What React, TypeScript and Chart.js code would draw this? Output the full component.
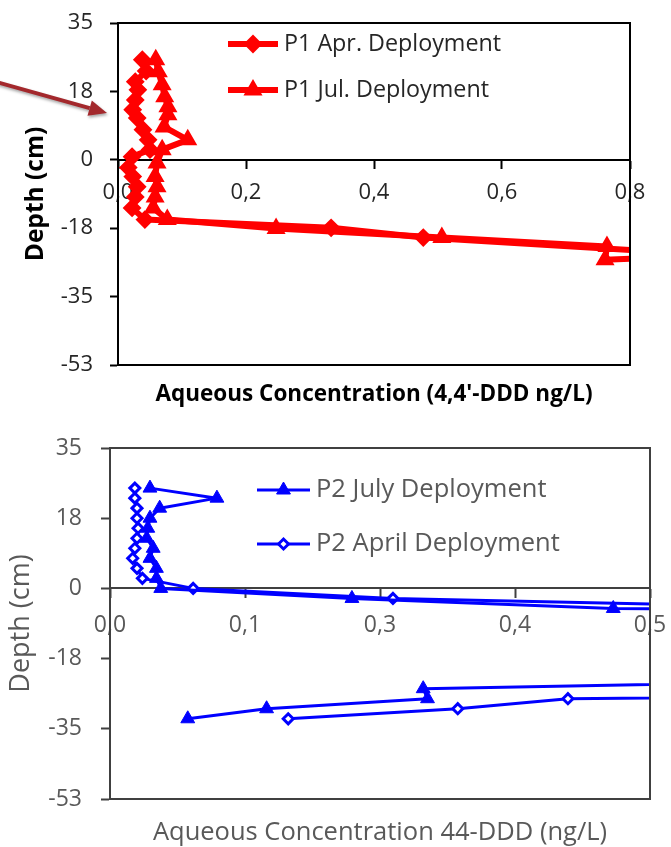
import React, { useEffect, useRef } from 'react';
import { Chart, registerables } from 'chart.js';
import { drawPoint } from 'chart.js/helpers';

Chart.register(...registerables);

// ---- axis ticks ----
const DEPTH_TICKS = [35, 17.5, 0, -17.5, -35, -52.5];
const DEPTH_TICK_LABELS = ['35', '18', '0', '-18', '-35', '-53'];
const P1_CONC_TICKS = [0, 0.2, 0.4, 0.6, 0.8];
const P1_CONC_TICK_LABELS = ['0,0', '0,2', '0,4', '0,6', '0,8'];
const P2_CONC_TICKS = [0, 0.125, 0.25, 0.375, 0.5];
const P2_CONC_TICK_LABELS = ['0,0', '0,1', '0,3', '0,4', '0,5'];

// ---- P1 (4,4'-DDD ng/L vs depth cm) ----
const P1_APR_CONC = [0.038, 0.044, 0.027, 0.031, 0.027, 0.023, 0.030, 0.039, 0.047, 0.050, 0.022, 0.016, 0.023, 0.030, 0.027, 0.022, 0.042, 0.333, 0.477, 1.1];
const P1_APR_DEPTH = [25.6, 22.7, 20, 17.9, 15.3, 12.8, 10.7, 7.7, 5.1, 2.6, 0.8, -2, -4.3, -6.9, -9.5, -12.3, -15.3, -17.4, -19.9, -26];
const P1_JUL_CONC = [0.059, 0.063, 0.069, 0.073, 0.078, 0.078, 0.072, 0.109, 0.069, 0.061, 0.058, 0.061, 0.058, 0.055, 0.077, 0.247, 0.506, 0.764, 0.761, 1.0];
const P1_JUL_DEPTH = [25.6, 22.5, 19.2, 16.1, 13.6, 11.5, 8.4, 5.1, 2.6, -0.8, -4.3, -6.9, -9.5, -12.3, -15.3, -17.6, -19.9, -22.2, -25.6, -24];

// ---- P2 (44-DDD ng/L vs depth cm) ----
const P2_JUL_CONC = [0.037, 0.099, 0.046, 0.037, 0.035, 0.034, 0.040, 0.037, 0.043, 0.043, 0.047, 0.224, 0.466, 1.9, 0.8, 0.290, 0.294, 0.145, 0.072];
const P2_JUL_DEPTH = [25, 22.5, 20, 17.5, 15, 12.5, 10, 7.5, 5, 2.5, 0, -2.5, -5, -7.5, -22.5, -25, -27.5, -30, -32.5];
const P2_APR_CONC = [0.023, 0.023, 0.025, 0.025, 0.026, 0.025, 0.023, 0.021, 0.025, 0.030, 0.077, 0.262, 0.7, 1.5, 0.424, 0.322, 0.165];
const P2_APR_DEPTH = [25, 22.5, 20, 17.5, 15, 12.5, 10, 7.5, 5, 2.5, 0, -2.5, -5, -25, -27.5, -30, -32.5];

const P1_NAMES = ['P1 Apr. Deployment', 'P1 Jul. Deployment'];
const P2_NAMES = ['P2 July Deployment', 'P2 April Deployment'];
const P1_X_TITLE = "Aqueous Concentration (4,4'-DDD ng/L)";
const P2_X_TITLE = 'Aqueous Concentration 44-DDD (ng/L)';
const Y_TITLE = 'Depth (cm)';

const FONT = '"Open Sans", Lato, sans-serif';

function pts(xs: number[], ys: number[]) {
  return xs.map((x, i) => ({ x, y: ys[i] }));
}

function framePlugin(color: string, width: number) {
  return {
    id: 'frame',
    afterDatasetsDraw(chart: any) {
      const { ctx, chartArea } = chart;
      ctx.save();
      ctx.strokeStyle = color;
      ctx.lineWidth = width;
      ctx.strokeRect(chartArea.left, chartArea.top, chartArea.right - chartArea.left, chartArea.bottom - chartArea.top);
      ctx.restore();
    },
  };
}

function legendPlugin(cfg: any) {
  return {
    id: 'insideLegend',
    afterDraw(chart: any) {
      const ctx = chart.ctx;
      cfg.rows.forEach((row: any) => {
        const ds = chart.data.datasets[row.index];
        ctx.save();
        ctx.strokeStyle = ds.borderColor;
        ctx.lineWidth = ds.borderWidth;
        ctx.lineCap = 'butt';
        ctx.beginPath();
        ctx.moveTo(cfg.x0, row.y);
        ctx.lineTo(cfg.x1, row.y);
        ctx.stroke();
        ctx.fillStyle = ds.pointBackgroundColor;
        ctx.strokeStyle = ds.pointBorderColor;
        ctx.lineWidth = ds.pointBorderWidth;
        drawPoint(ctx, { pointStyle: ds.pointStyle, radius: ds.pointRadius, borderWidth: ds.pointBorderWidth, rotation: 0 } as any, (cfg.x0 + cfg.x1) / 2, row.y);
        ctx.fillStyle = cfg.color;
        ctx.font = cfg.font;
        ctx.textBaseline = 'middle';
        ctx.textAlign = 'left';
        ctx.fillText(ds.label, cfg.textX, row.y);
        ctx.restore();
      });
    },
  };
}

const arrowPlugin = {
  id: 'arrow',
  afterDraw(chart: any) {
    const ctx = chart.ctx;
    const x0 = 0, y0 = 83, x1 = 107, y1 = 113;
    const ang = Math.atan2(y1 - y0, x1 - x0);
    const headLen = 18, headHalf = 8;
    const bx = x1 - headLen * Math.cos(ang), by = y1 - headLen * Math.sin(ang);
    ctx.save();
    ctx.shadowColor = 'rgba(0,0,0,0.35)';
    ctx.shadowBlur = 3;
    ctx.shadowOffsetX = 1;
    ctx.shadowOffsetY = 2;
    ctx.strokeStyle = '#A3282C';
    ctx.fillStyle = '#A3282C';
    ctx.lineWidth = 4;
    ctx.beginPath();
    ctx.moveTo(x0 - 5, y0 - 5 * Math.tan(ang));
    ctx.lineTo(bx, by);
    ctx.stroke();
    ctx.beginPath();
    ctx.moveTo(x1, y1);
    ctx.lineTo(bx + headHalf * Math.sin(ang), by - headHalf * Math.cos(ang));
    ctx.lineTo(bx - headHalf * Math.sin(ang), by + headHalf * Math.cos(ang));
    ctx.closePath();
    ctx.fill();
    ctx.restore();
  },
};

function makeAxes(opts: any) {
  const { xMax, xTicks, xLabels, color, axisColor, axisWidth, tickFont, yWidth, yTitleFont, yTitlePad, xPad, yPad, tickLen } = opts;
  return {
    x: {
      type: 'linear',
      min: 0,
      max: xMax,
      position: { y: 0 },
      afterBuildTicks: (s: any) => { s.ticks = xTicks.map((v: number) => ({ value: v })); },
      afterFit: (s: any) => { s.height = 0; s.paddingLeft = 0; s.paddingRight = 0; },
      ticks: {
        callback: (_v: any, i: number) => xLabels[i],
        color,
        font: tickFont,
        padding: xPad,
        maxRotation: 0,
        autoSkip: false,
      },
      grid: { drawOnChartArea: false, drawTicks: true, tickLength: tickLen, tickColor: axisColor, tickWidth: axisWidth },
      border: { display: true, color: axisColor, width: axisWidth },
    },
    y: {
      type: 'linear',
      min: -52.5,
      max: 35,
      position: 'left',
      afterBuildTicks: (s: any) => { s.ticks = DEPTH_TICKS.map((v) => ({ value: v })); },
      afterFit: (s: any) => { s.width = yWidth; s.paddingTop = 0; s.paddingBottom = 0; },
      ticks: {
        callback: (_v: any, i: number) => DEPTH_TICK_LABELS[i],
        color,
        font: tickFont,
        padding: yPad,
        autoSkip: false,
      },
      grid: { drawOnChartArea: false, drawTicks: true, tickLength: tickLen, tickColor: axisColor, tickWidth: axisWidth },
      border: { display: true, color: axisColor, width: axisWidth },
      title: { display: true, text: Y_TITLE, color: opts.titleColor, font: yTitleFont, padding: { top: yTitlePad, bottom: 0 } },
    },
  };
}

function p1Config() {
  const red = '#FF0000';
  const common = { showLine: true, borderColor: red, backgroundColor: red, borderWidth: 6, borderJoinStyle: 'round', pointBackgroundColor: red, pointBorderColor: red, pointBorderWidth: 2 };
  return {
    type: 'scatter',
    data: {
      datasets: [
        { ...common, label: P1_NAMES[0], data: pts(P1_APR_CONC, P1_APR_DEPTH), pointStyle: 'rectRot', pointRadius: 8 },
        { ...common, label: P1_NAMES[1], data: pts(P1_JUL_CONC, P1_JUL_DEPTH), pointStyle: 'triangle', pointRadius: 9 },
      ],
    },
    options: {
      responsive: false,
      animation: false,
      events: [],
      layout: { padding: { left: 0, top: 23, right: 41, bottom: 11.5 } },
      scales: makeAxes({
        xMax: 0.8, xTicks: P1_CONC_TICKS, xLabels: P1_CONC_TICK_LABELS,
        color: '#262626', titleColor: '#000', axisColor: '#000', axisWidth: 2,
        tickFont: { family: FONT, size: 22 }, yWidth: 118,
        yTitleFont: { family: FONT, size: 24.5, weight: 'bold', lineHeight: 1.2 }, yTitlePad: 21,
        xPad: 12, yPad: 17, tickLen: 8,
      }),
      plugins: {
        legend: { display: false },
        tooltip: { enabled: false },
        title: {
          display: true, position: 'bottom', fullSize: false, text: P1_X_TITLE, color: '#000',
          font: { family: FONT, size: 22.5, weight: 'bold', lineHeight: 1.2 },
          padding: { top: 16.5, bottom: 0 },
        },
      },
    },
    plugins: [
      framePlugin('#000', 2),
      legendPlugin({ x0: 228, x1: 278, textX: 284, color: '#262626', font: `23.3px ${FONT}`, rows: [{ index: 0, y: 44 }, { index: 1, y: 90 }] }),
      arrowPlugin,
    ],
  };
}

function p2Config() {
  const blue = '#0000FF';
  const common = { showLine: true, borderColor: blue, backgroundColor: blue, borderWidth: 3, borderJoinStyle: 'round', pointBorderColor: blue };
  return {
    type: 'scatter',
    data: {
      datasets: [
        { ...common, label: P2_NAMES[0], data: pts(P2_JUL_CONC, P2_JUL_DEPTH), pointStyle: 'triangle', pointRadius: 8, pointBackgroundColor: blue, pointBorderWidth: 1 },
        { ...common, label: P2_NAMES[1], data: pts(P2_APR_CONC, P2_APR_DEPTH), pointStyle: 'rectRot', pointRadius: 5, pointBackgroundColor: '#ffffff', pointBorderWidth: 3 },
      ],
    },
    options: {
      responsive: false,
      animation: false,
      events: [],
      layout: { padding: { left: 0, top: 28, right: 21, bottom: 1.25 } },
      scales: makeAxes({
        xMax: 0.5, xTicks: P2_CONC_TICKS, xLabels: P2_CONC_TICK_LABELS,
        color: '#595959', titleColor: '#595959', axisColor: '#404040', axisWidth: 2,
        tickFont: { family: FONT, size: 23 }, yWidth: 110,
        yTitleFont: { family: FONT, size: 27, lineHeight: 1.2 }, yTitlePad: 4.8,
        xPad: 14, yPad: 19, tickLen: 9,
      }),
      plugins: {
        legend: { display: false },
        tooltip: { enabled: false },
        title: {
          display: true, position: 'bottom', fullSize: false, text: P2_X_TITLE, color: '#595959',
          font: { family: FONT, size: 25.5, weight: 'normal', lineHeight: 1 },
          padding: { top: 21.25, bottom: 0 },
        },
      },
    },
    plugins: [
      framePlugin('#404040', 2),
      legendPlugin({ x0: 257, x1: 310, textX: 316, color: '#595959', font: `25.5px ${FONT}`, rows: [{ index: 0, y: 70 }, { index: 1, y: 124 }] }),
    ],
  };
}

function ChartCanvas({ width, height, makeConfig }: { width: number; height: number; makeConfig: () => any }) {
  const ref = useRef<HTMLCanvasElement | null>(null);
  useEffect(() => {
    if (!ref.current) return;
    const chart = new Chart(ref.current, makeConfig());
    return () => chart.destroy();
  }, [makeConfig]);
  return <canvas ref={ref} width={width} height={height} style={{ display: 'block', width, height }} />;
}

export default function App() {
  return (
    <div style={{ position: 'absolute', left: 0, top: 0, width: 671, height: 847, background: '#fff' }}>
      <ChartCanvas width={671} height={420} makeConfig={p1Config} />
      <ChartCanvas width={671} height={427} makeConfig={p2Config} />
    </div>
  );
}
